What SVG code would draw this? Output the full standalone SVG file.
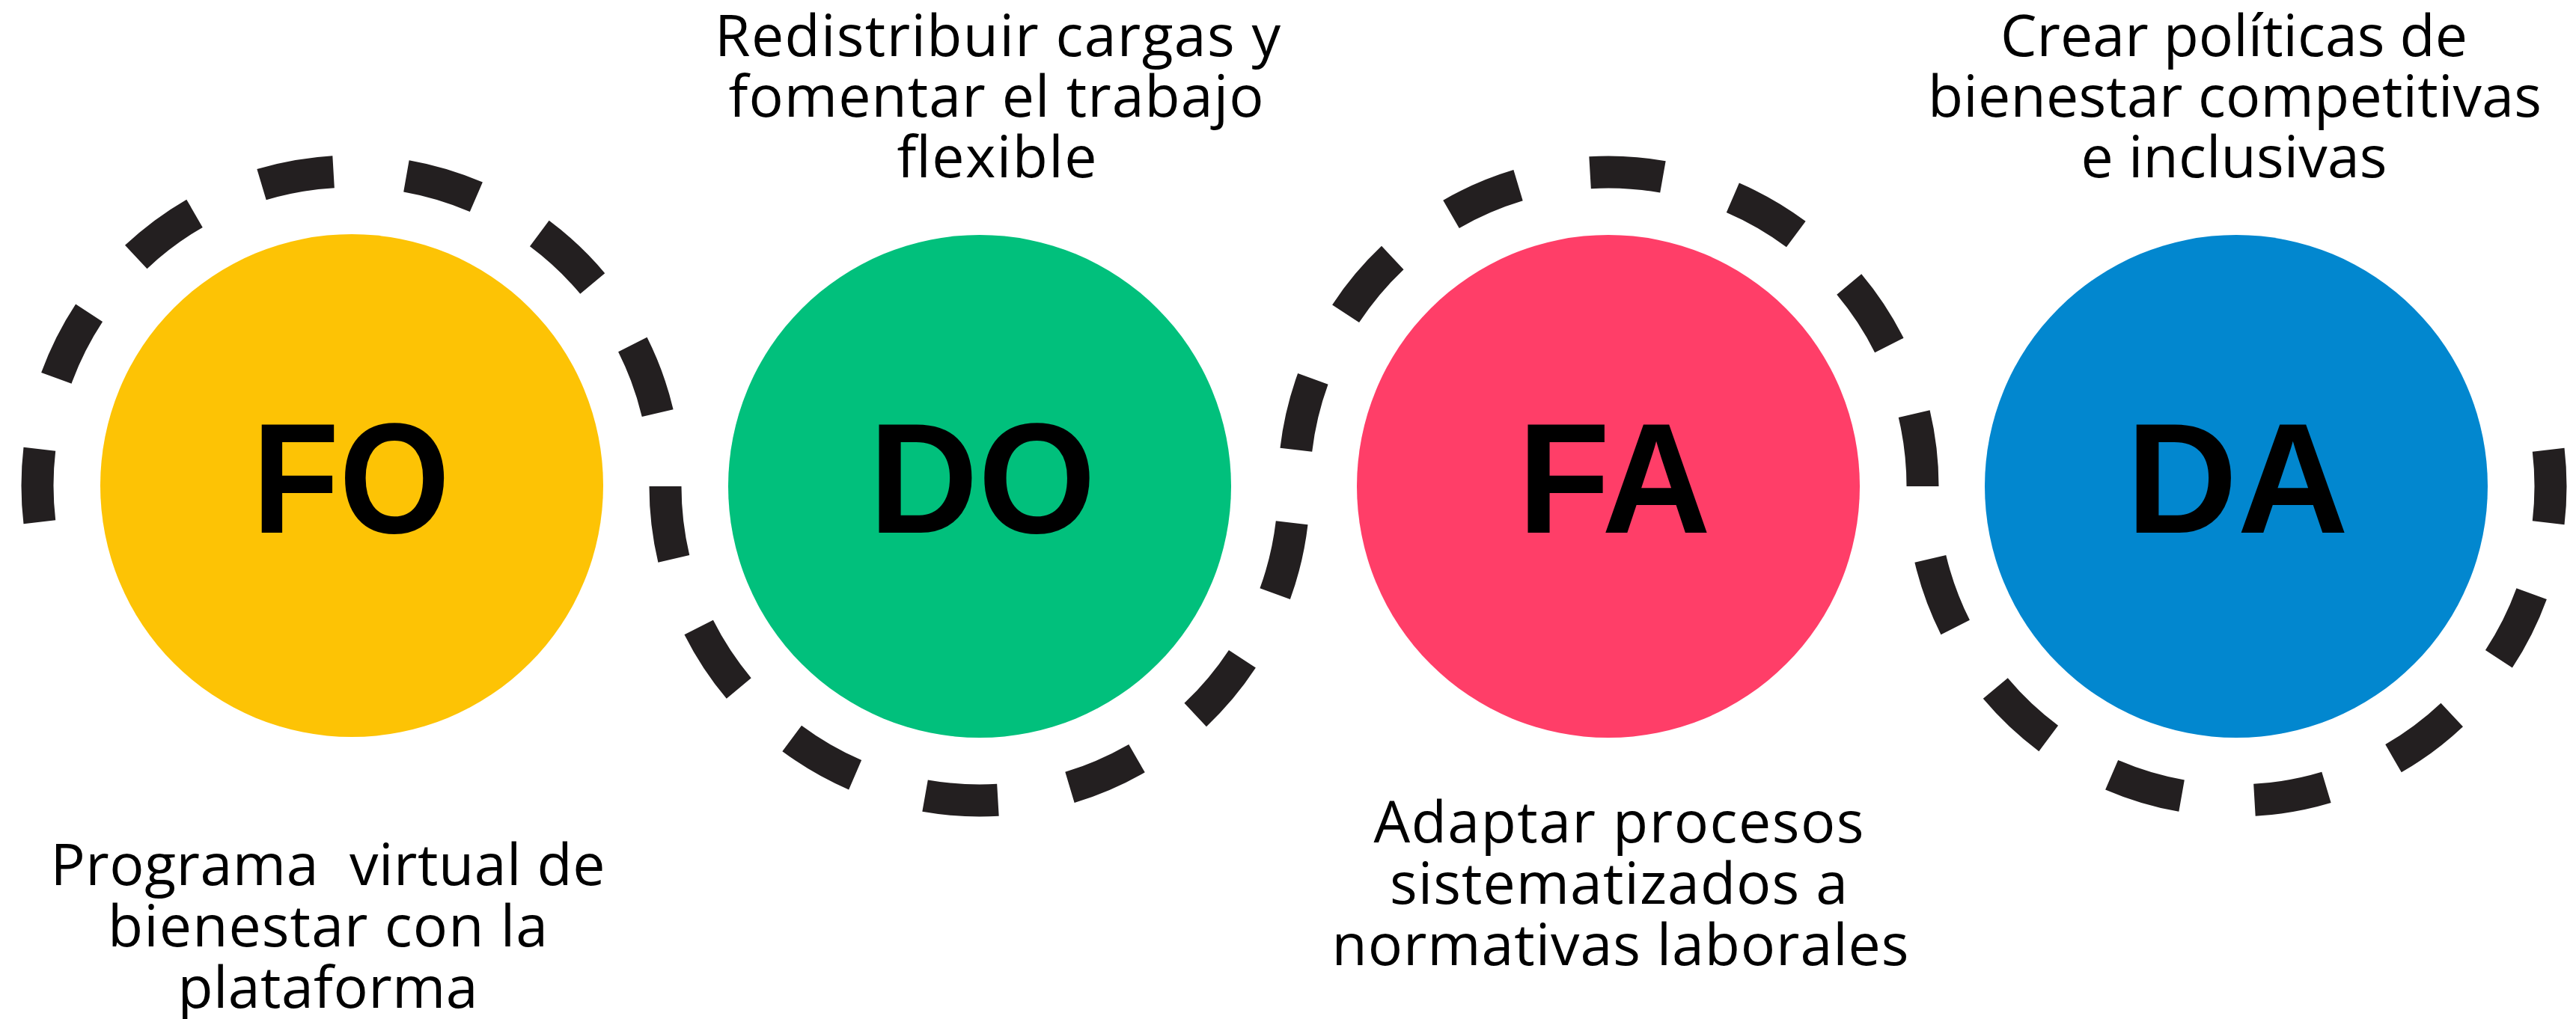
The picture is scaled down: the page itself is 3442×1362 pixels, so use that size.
<svg xmlns="http://www.w3.org/2000/svg" width="3442" height="1362" viewBox="0 0 3442 1362">
<style>
.ring{fill:none;stroke:#231f20;stroke-width:43;stroke-linecap:butt}
.lbl{font-family:"Liberation Sans","Arial",sans-serif;font-weight:700;font-size:210px;fill:#000;text-anchor:middle}
.desc{font-family:"Open Sans","Noto Sans","Liberation Sans",sans-serif;font-size:77px;fill:#000;text-anchor:middle}
</style>
<rect width="3442" height="1362" fill="#ffffff"/>
<g id="node-FO">
<path class="ring" d="M52.84 697.76A420 420 0 0 1 52.84 600.24M75.33 505.35A420 420 0 0 1 119.09 418.21M181.78 343.5A420 420 0 0 1 260 285.27M349.54 246.64A420 420 0 0 1 445.58 229.71M542.93 235.38A420 420 0 0 1 636.35 263.35M720.81 312.11A420 420 0 0 1 791.74 379.03M845.32 460.5A420 420 0 0 1 878.68 552.14"/>
<circle cx="470" cy="649" r="336" fill="#fdc305"/>
<text class="lbl" x="469" y="712" textLength="264" lengthAdjust="spacingAndGlyphs">FO</text>
<text class="desc" x="438" y="1183" textLength="741" xml:space="preserve">Programa  virtual de</text>
<text class="desc" x="438" y="1265" textLength="588">bienestar con la</text>
<text class="desc" x="438" y="1347" textLength="401">plataforma</text>
</g>
<g id="node-DO">
<path class="ring" d="M1726.16 698.76A420 420 0 0 1 1703.67 793.65M1659.91 880.79A420 420 0 0 1 1597.22 955.5M1519 1013.73A420 420 0 0 1 1429.46 1052.36M1333.42 1069.29A420 420 0 0 1 1236.07 1063.62M1142.65 1035.65A420 420 0 0 1 1058.19 986.89M987.26 919.97A420 420 0 0 1 933.68 838.5M900.32 746.86A420 420 0 0 1 889 650"/>
<circle cx="1309" cy="650" r="336" fill="#01c07c"/>
<text class="lbl" x="1312.5" y="712" textLength="303" lengthAdjust="spacingAndGlyphs">DO</text>
<text class="desc" x="1333" y="75" textLength="756">Redistribuir cargas y</text>
<text class="desc" x="1331" y="156" textLength="715">fomentar el trabajo</text>
<text class="desc" x="1332" y="237" textLength="267">flexible</text>
</g>
<g id="node-FA">
<path class="ring" d="M1731.84 601.24A420 420 0 0 1 1754.33 506.35M1798.09 419.21A420 420 0 0 1 1860.78 344.5M1939 286.27A420 420 0 0 1 2028.54 247.64M2124.58 230.71A420 420 0 0 1 2221.93 236.38M2315.35 264.35A420 420 0 0 1 2399.81 313.11M2470.74 380.03A420 420 0 0 1 2524.32 461.5M2557.68 553.14A420 420 0 0 1 2569 650"/>
<circle cx="2149" cy="650" r="336" fill="#ff3e68"/>
<text class="lbl" x="2157" y="712" textLength="258" lengthAdjust="spacingAndGlyphs">FA</text>
<text class="desc" x="2163" y="1126" textLength="655">Adaptar procesos</text>
<text class="desc" x="2163" y="1208" textLength="612">sistematizados a</text>
<text class="desc" x="2165" y="1290" textLength="771">normativas laborales</text>
</g>
<g id="node-DA">
<path class="ring" d="M3405.16 601.24A420 420 0 0 1 3405.16 698.76M3382.67 793.65A420 420 0 0 1 3338.91 880.79M3276.22 955.5A420 420 0 0 1 3198 1013.73M3108.46 1052.36A420 420 0 0 1 3012.42 1069.29M2915.07 1063.62A420 420 0 0 1 2821.65 1035.65M2737.19 986.89A420 420 0 0 1 2666.26 919.97M2612.68 838.5A420 420 0 0 1 2579.32 746.86"/>
<circle cx="2988" cy="650" r="336" fill="#0287cf"/>
<text class="lbl" x="2989.5" y="712" textLength="297" lengthAdjust="spacingAndGlyphs">DA</text>
<text class="desc" x="2985" y="75" textLength="624">Crear políticas de</text>
<text class="desc" x="2986" y="156" textLength="820">bienestar competitivas</text>
<text class="desc" x="2985" y="237" textLength="409">e inclusivas</text>
</g>
</svg>
